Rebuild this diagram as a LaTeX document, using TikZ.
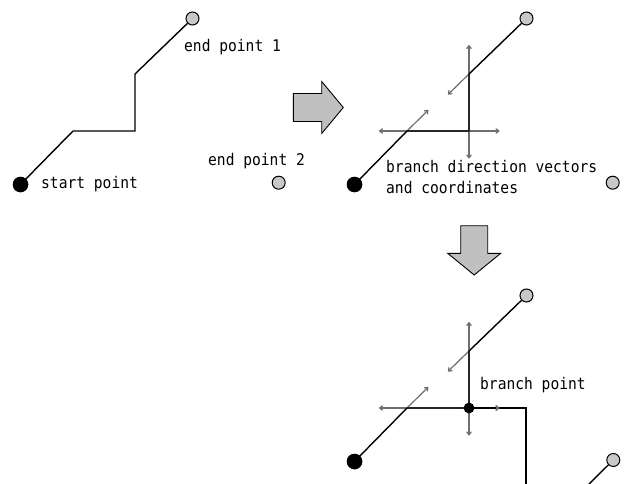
\documentclass[tikz,border=0pt]{standalone}
\usepackage{fontspec}
\usepackage{graphicx}
\setmonofont{DejaVu Sans Mono}
\usetikzlibrary{arrows.meta}
\definecolor{endgray}{HTML}{C8C8C8}
\definecolor{vecgray}{HTML}{6E6E6E}
\definecolor{blockgray}{HTML}{C0C0C0}
\newcommand{\tallmono}[1]{\scalebox{1}[1.1]{#1}}
\tikzset{
  wire/.style={line width=1.4pt, black},
  vec/.style={line width=1.2pt, vecgray, {To[length=4pt,width=5.5pt]}-{To[length=4pt,width=5.5pt]}},
  vecone/.style={line width=1.2pt, vecgray, -{To[length=4pt,width=5.5pt]}},
  startpt/.style={circle, fill=black, minimum size=15.5pt, inner sep=0pt},
  endpt/.style={circle, draw=black, line width=1pt, fill=endgray, minimum size=13pt, inner sep=0pt},
  branchpt/.style={circle, fill=black, minimum size=10.5pt, inner sep=0pt},
  lbl/.style={font=\ttfamily\fontsize{14.6}{17}\selectfont, inner sep=0pt, anchor=base west},
  blockarrow/.style={draw=black, line width=0.9pt, fill=blockgray, line join=miter},
}
\begin{document}
\begin{tikzpicture}[x=1pt, y=-1pt]
\useasboundingbox (0,0) rectangle (626,484);
\clip (0,0) rectangle (626,484);

% ---------- panel 1: original route ----------
\coordinate (a1) at (73,131);
\coordinate (b1) at (135,131);
\coordinate (c1) at (135,74);
\node[startpt] (s1) at (20.5,184.5) {};
\node[endpt] (e1) at (192.5,18.5) {};
\node[endpt] (f1) at (278.7,182.7) {};
\draw[wire] (s1.center) -- (a1) -- (b1) -- (c1) -- (e1);
\node[startpt] at (s1) {};
\node[lbl] (t1) at (184,52) {\tallmono{end point 1}};
\node[lbl] (t2) at (208,165) {\tallmono{end point 2}};
\node[lbl] (t3) at (41,188) {\tallmono{start point}};

% ---------- block arrow to the right ----------
\draw[blockarrow] (293.3,93.5) -- (321.7,93.5) -- (321.7,81.5) -- (343.3,107.5)
  -- (321.7,133.5) -- (321.7,121.5) -- (293.3,121.5) -- cycle;

% ---------- panel 2: direction vectors ----------
\coordinate (a2) at (407,131);
\coordinate (b2) at (469,131);
\coordinate (c2) at (469,74);
\coordinate (vt2) at (469,45);
\coordinate (vb2) at (469,158.5);
\coordinate (hl2) at (379,131);
\coordinate (hr2) at (499.5,131);
\coordinate (du2) at (428.3,110);
\coordinate (dd2) at (448,94.5);
\draw[vec] (vb2) -- (vt2);
\draw[vec] (hl2) -- (hr2);
\draw[vecone] (a2) -- (du2);
\draw[vecone] (c2) -- (dd2);
\node[startpt] (s2) at (354.5,184.5) {};
\node[endpt] (e2) at (526.5,18.5) {};
\node[endpt] (f2) at (612.7,182.7) {};
\draw[wire] (s2.center) -- (a2) -- (b2) -- (c2) -- (e2);
\node[startpt] at (s2) {};
\node[lbl] (t4) at (386,172) {\tallmono{branch direction vectors}};
\node[lbl] (t5) at (386,193.5) {\tallmono{and coordinates}};

% ---------- block arrow downwards ----------
\draw[blockarrow] (460.7,225.7) -- (487.7,225.7) -- (487.7,253.3) -- (500.7,253.3)
  -- (474.2,275) -- (447.7,253.3) -- (460.7,253.3) -- cycle;

% ---------- panel 3: branch point ----------
\coordinate (a3) at (407,408);
\coordinate (c3) at (469,351);
\coordinate (r3) at (526,408);
\coordinate (d3) at (526,490);
\coordinate (g3) at (583,490);
\coordinate (vt3) at (469,322);
\coordinate (vb3) at (469,435.5);
\coordinate (hl3) at (379,408);
\coordinate (hr3) at (499.5,408);
\coordinate (hh3) at (496,408);
\coordinate (du3) at (428.3,387);
\coordinate (dd3) at (448,371.5);
\draw[vec] (vb3) -- (vt3);
\draw[vec] (hl3) -- (hr3);
\draw[vecone] (a3) -- (du3);
\draw[vecone] (c3) -- (dd3);
\node[startpt] (s3) at (354.5,461.5) {};
\node[endpt] (e3) at (526.5,295.5) {};
\node[endpt] (f3) at (613.3,460) {};
\node[branchpt] (bp) at (469,408) {};
\draw[wire] (s3.center) -- (a3) -- (bp.center) -- (c3) -- (e3);
\draw[wire] (bp.center) -- (r3) -- (d3);
\draw[wire] (f3) -- (g3);
% arrowhead of the right-pointing vector stays visible over the wire
\draw[vecone] (hh3) -- (hr3);
\node[startpt] at (s3) {};
\node[branchpt] at (bp) {};
\node[lbl] (t6) at (480,389.3) {\tallmono{branch point}};
\end{tikzpicture}
\end{document}
